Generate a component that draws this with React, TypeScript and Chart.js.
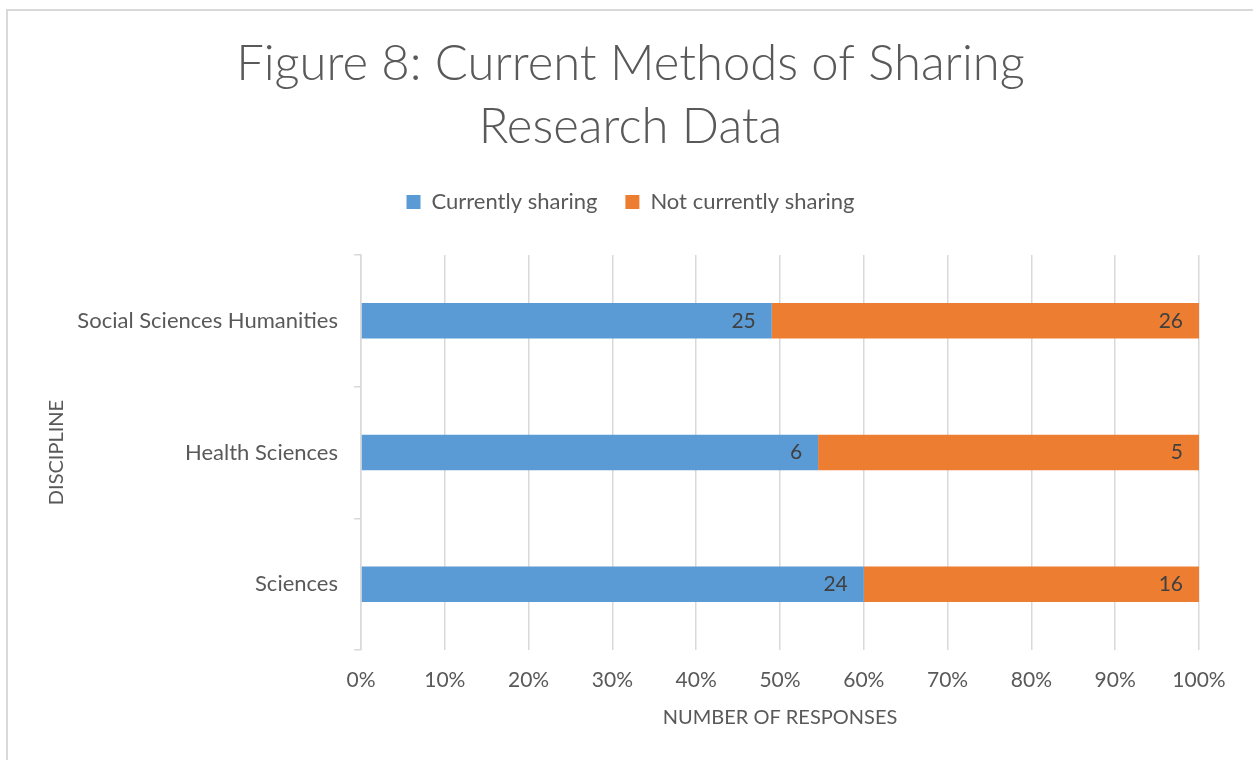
import React, { useEffect, useRef } from "react";
import { Chart, registerables } from "chart.js";

Chart.register(...registerables);

const TITLE_LINES = ["Figure 8: Current Methods of Sharing", "Research Data"];
const CATEGORIES = ["Social Sciences Humanities", "Health Sciences", "Sciences"];
const SERIES_NAMES = ["Currently sharing", "Not currently sharing"];
const CURRENTLY_SHARING = [25, 6, 24];
const NOT_CURRENTLY_SHARING = [26, 5, 16];
const X_TICK_VALUES = [0, 10, 20, 30, 40, 50, 60, 70, 80, 90, 100];
const Y_AXIS_TITLE = "DISCIPLINE";
const X_AXIS_TITLE = "NUMBER OF RESPONSES";

const COLORS = ["#5B9BD5", "#ED7D31"];
const TEXT = "#595959";
const GRID = "#d9d9d9";
const FONT = "Lato, 'Open Sans', sans-serif";

const totals = CATEGORIES.map((_, i) => CURRENTLY_SHARING[i] + NOT_CURRENTLY_SHARING[i]);
const counts = [CURRENTLY_SHARING, NOT_CURRENTLY_SHARING];

const dataLabelPlugin = {
  id: "dataLabels",
  afterDatasetsDraw(chart: any) {
    const ctx = chart.ctx;
    ctx.save();
    ctx.font = `400 21px ${FONT}`;
    ctx.fillStyle = "#404040";
    ctx.textAlign = "right";
    ctx.textBaseline = "middle";
    chart.data.datasets.forEach((ds: any, di: number) => {
      const meta = chart.getDatasetMeta(di);
      meta.data.forEach((bar: any, i: number) => {
        ctx.fillText(String(counts[di][i]), bar.x - 16, bar.y);
      });
    });
    ctx.restore();
  },
};

export default function App() {
  const ref = useRef<HTMLCanvasElement | null>(null);
  useEffect(() => {
    if (!ref.current) return;
    const chart = new Chart(ref.current, {
      type: "bar",
      data: {
        labels: CATEGORIES,
        datasets: SERIES_NAMES.map((name, di) => ({
          label: name,
          data: counts[di].map((v, i) => (v / totals[i]) * 100),
          backgroundColor: COLORS[di],
          borderWidth: 0,
          categoryPercentage: 1,
          barPercentage: 0.27,
        })),
      },
      options: {
        indexAxis: "y",
        animation: false,
        responsive: false,
        maintainAspectRatio: false,
        layout: { padding: { left: 8, right: 0, top: 0, bottom: 0 } },
        plugins: {
          tooltip: { enabled: false },
          title: {
            display: true,
            text: TITLE_LINES,
            color: TEXT,
            font: { family: FONT, size: 49, weight: "300", lineHeight: 63 / 49 },
            padding: { top: 33, bottom: 4 },
          },
          legend: {
            display: true,
            position: "top",
            labels: {
              boxWidth: 14,
              boxHeight: 14,
              padding: 28,
              color: TEXT,
              font: { family: FONT, size: 22 },
            },
          },
        },
        scales: {
          x: {
            type: "linear",
            position: "bottom",
            stacked: true,
            min: 0,
            max: 100,
            afterBuildTicks: (s: any) => {
              s.ticks = X_TICK_VALUES.map((v) => ({ value: v }));
            },
            afterFit: (s: any) => {
              s.height = 110;
            },
            grid: { color: GRID, lineWidth: 1.5, drawTicks: false },
            border: { display: false },
            ticks: {
              color: TEXT,
              font: { family: FONT, size: 21 },
              padding: 18,
              callback: (v: any) => `${v}%`,
            },
            title: {
              display: true,
              text: X_AXIS_TITLE,
              color: TEXT,
              font: { family: FONT, size: 20 },
              padding: { top: 0, bottom: 30 },
            },
          },
          xTop: {
            type: "linear",
            position: "top",
            display: true,
            grid: { display: false },
            border: { display: false },
            ticks: { display: false },
            afterFit: (s: any) => {
              s.height = 32;
            },
          },
          y: {
            type: "category",
            position: "left",
            stacked: true,
            afterFit: (s: any) => {
              s.width = 353;
            },
            grid: {
              display: true,
              drawOnChartArea: false,
              drawTicks: true,
              tickLength: 7,
              offset: true,
              color: GRID,
              lineWidth: 1.5,
            },
            border: { display: true, color: GRID, width: 1.5 },
            ticks: {
              color: TEXT,
              font: { family: FONT, size: 22 },
              padding: 16,
            },
            title: {
              display: true,
              text: Y_AXIS_TITLE,
              color: TEXT,
              font: { family: FONT, size: 20 },
              padding: { top: 37, bottom: 0 },
            },
          },
          yRight: {
            type: "category",
            position: "right",
            display: true,
            grid: { display: false },
            border: { display: false },
            ticks: { display: false },
            afterFit: (s: any) => {
              s.width = 54;
            },
          },
        },
      },
      plugins: [dataLabelPlugin],
    } as any);
    return () => chart.destroy();
  }, []);

  return (
    <div
      style={{
        position: "absolute",
        left: 0,
        top: 0,
        width: 1253,
        height: 760,
        overflow: "hidden",
        background: "#fff",
      }}
    >
      <div
        style={{
          position: "absolute",
          left: 6,
          top: 9,
          width: 1320,
          height: 820,
          border: "2px solid #d9d9d9",
          boxSizing: "border-box",
        }}
      />
      <canvas
        ref={ref}
        width={1253}
        height={760}
        style={{ position: "absolute", left: 0, top: 0, width: 1253, height: 760 }}
      />
    </div>
  );
}
